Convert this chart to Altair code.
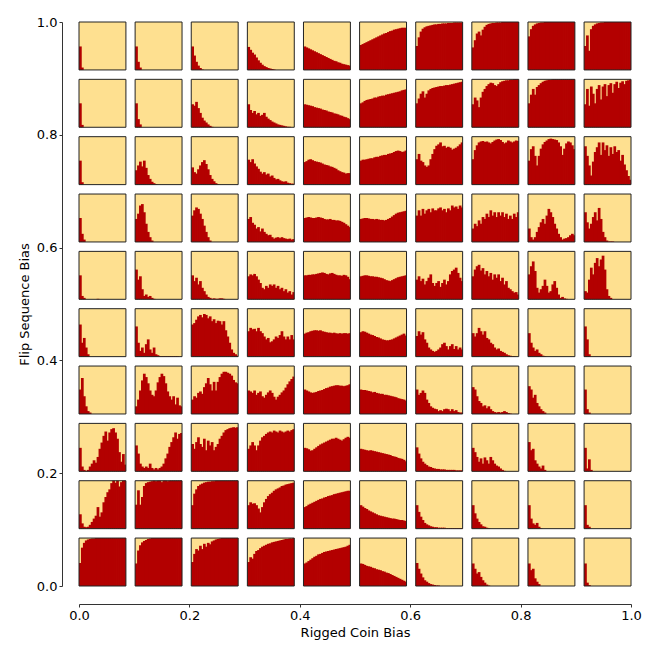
import altair as alt
import pandas as pd

# Panel grid: columns = rigged coin bias, rows = flip sequence bias
COIN_BIAS = [0.0, 0.1, 0.2, 0.3, 0.4, 0.5, 0.6, 0.7, 0.8, 0.9]
FLIP_BIAS = [0.0, 0.1, 0.2, 0.3, 0.4, 0.5, 0.6, 0.7, 0.8, 0.9]
N_BINS = 24
TICKS = [0.0, 0.2, 0.4, 0.6, 0.8, 1.0]

# histogram heights (percent of panel height), one list per panel, left->right coin bias
flip_0_9 = [
    [49, 5],
    [49, 17, 5],
    [49, 30, 17, 9, 4, 1],
    [48, 42, 36, 32, 26, 20, 15, 11, 8, 6, 4, 3, 2, 1],
    [49, 47, 45, 43, 41, 39, 37, 35, 33, 31, 29, 27, 25, 23, 21, 19, 18, 16, 15, 13, 12, 11, 10, 9],
    [52, 54, 56, 58, 60, 62, 64, 66, 68, 70, 72, 74, 76, 77, 79, 81, 82, 84, 85, 86, 87, 88, 88, 88],
    [50, 68, 80, 86, 89, 91, 92, 93, 94, 95, 95, 96, 96, 97, 97, 97, 98, 98, 98, 99, 99, 99, 99, 99],
    [47, 62, 76, 80, 72, 84, 90, 94, 96, 97, 98, 98, 99, 99, 99, 100, 100, 100, 100, 100, 100, 100, 100, 100],
    [70, 85, 92, 95, 97, 98, 99, 99, 100, 100, 100, 100, 100, 100, 100, 100, 100, 100, 100, 100, 100, 100, 100, 100],
    [50, 72, 40, 85, 92, 95, 97, 98, 99, 99, 100, 100, 100, 100, 100, 100, 100, 100, 100, 100, 100, 100, 100, 100],
]
flip_0_8 = [
    [50, 5],
    [50, 17, 6],
    [48, 45, 53, 40, 30, 20, 14, 10, 6, 3, 1],
    [48, 36, 30, 34, 27, 30, 24, 26, 30, 22, 18, 15, 12, 10, 8, 6, 5, 4, 3, 2, 1, 1],
    [48, 47, 46, 45, 44, 42, 41, 40, 39, 37, 36, 35, 33, 32, 31, 29, 28, 27, 25, 24, 22, 21, 19, 17],
    [50, 52, 55, 57, 58, 59, 60, 62, 62, 64, 65, 66, 66, 68, 69, 70, 71, 72, 73, 74, 75, 77, 78, 79],
    [50, 60, 70, 75, 62, 70, 77, 80, 82, 83, 84, 85, 86, 86, 87, 88, 88, 89, 90, 91, 92, 93, 94, 95],
    [48, 62, 56, 42, 62, 74, 80, 86, 90, 93, 92, 88, 86, 90, 94, 96, 97, 98, 98, 99, 99, 100, 100, 100],
    [50, 68, 80, 68, 84, 88, 92, 95, 97, 98, 99, 99, 100, 100, 100, 100, 100, 100, 100, 100, 100, 100, 100, 100],
    [48, 80, 45, 85, 70, 50, 80, 88, 58, 85, 90, 65, 88, 92, 72, 90, 95, 82, 93, 96, 90, 97, 98, 99],
]
flip_0_7 = [
    [50, 5],
    [30, 40, 48, 38, 50, 35, 20, 12, 6, 3, 1],
    [36, 26, 23, 32, 40, 47, 51, 43, 32, 20, 12, 7, 3, 1],
    [52, 47, 53, 44, 38, 33, 27, 23, 26, 21, 23, 17, 19, 14, 11, 12, 9, 7, 6, 7, 4, 3, 2, 2],
    [47, 49, 52, 53, 51, 49, 48, 47, 46, 44, 42, 41, 40, 38, 37, 35, 33, 30, 28, 26, 25, 23, 24, 24],
    [50, 52, 52, 53, 54, 55, 55, 57, 58, 58, 60, 61, 62, 62, 64, 65, 66, 68, 70, 71, 70, 68, 69, 71],
    [53, 64, 50, 47, 40, 37, 40, 53, 64, 74, 81, 84, 88, 80, 81, 77, 79, 77, 73, 75, 77, 80, 84, 88],
    [53, 72, 82, 88, 90, 91, 89, 90, 88, 86, 89, 92, 94, 95, 93, 89, 86, 88, 92, 90, 88, 90, 92, 91],
    [50, 74, 80, 60, 40, 60, 75, 84, 89, 92, 95, 96, 95, 94, 93, 88, 80, 62, 75, 86, 90, 88, 82, 74],
    [80, 60, 40, 19, 48, 68, 78, 88, 62, 88, 72, 82, 60, 78, 64, 80, 68, 72, 50, 62, 42, 30, 18, 10],
]
flip_0_6 = [
    [50, 17, 5],
    [48, 59, 76, 79, 62, 38, 21, 10, 3],
    [55, 66, 72, 69, 59, 48, 34, 21, 10, 3],
    [48, 52, 40, 36, 28, 31, 22, 28, 21, 17, 14, 15, 10, 7, 9, 10, 8, 10, 8, 7, 6, 7, 5, 6],
    [50, 51, 52, 51, 50, 50, 51, 52, 51, 50, 48, 47, 47, 48, 46, 46, 45, 45, 44, 42, 40, 37, 34, 31],
    [48, 49, 50, 50, 49, 48, 48, 47, 48, 47, 46, 46, 45, 46, 48, 50, 53, 56, 59, 61, 62, 63, 64, 65],
    [55, 66, 55, 69, 59, 66, 69, 62, 70, 66, 66, 70, 72, 66, 69, 62, 70, 66, 76, 72, 74, 69, 76, 72],
    [28, 38, 33, 45, 38, 52, 48, 59, 52, 66, 55, 62, 52, 62, 55, 62, 52, 59, 48, 55, 48, 59, 52, 62],
    [28, 10, 5, 10, 21, 31, 41, 48, 38, 55, 69, 62, 52, 38, 28, 17, 10, 5, 7, 8, 10, 14, 17, 14],
    [62, 41, 28, 38, 52, 62, 45, 71, 48, 21, 10, 3, 1, 1, 1],
]
flip_0_5 = [
    [50, 7, 3, 0, 0, 0, 0, 0, 0, 1],
    [62, 41, 48, 21, 7, 10, 5, 7, 3, 1],
    [50, 38, 45, 31, 38, 24, 17, 10, 5, 3, 1, 2, 1, 1, 2, 2, 1],
    [48, 52, 50, 53, 48, 41, 34, 24, 21, 28, 24, 31, 28, 31, 24, 28, 21, 24, 17, 21, 14, 17, 10, 15],
    [50, 50, 51, 51, 52, 52, 53, 54, 55, 56, 55, 53, 52, 54, 55, 53, 51, 50, 50, 49, 51, 50, 47, 42],
    [48, 49, 50, 50, 49, 48, 48, 47, 47, 46, 45, 44, 42, 40, 39, 38, 40, 42, 44, 46, 47, 48, 49, 50],
    [41, 48, 38, 43, 31, 38, 45, 52, 34, 28, 34, 38, 26, 34, 41, 31, 38, 52, 59, 62, 66, 55, 45, 38],
    [48, 62, 69, 72, 60, 65, 52, 59, 48, 55, 41, 52, 45, 52, 38, 45, 31, 38, 24, 21, 17, 14, 15, 10],
    [52, 69, 79, 59, 24, 14, 21, 28, 41, 28, 14, 17, 31, 38, 24, 10, 3, 5, 2, 1],
    [17, 14, 41, 66, 52, 76, 86, 69, 83, 91, 62, 21, 7, 3],
]
flip_0_4 = [
    [67, 29, 39, 19, 5],
    [63, 29, 12, 19, 8, 26, 36, 15, 8, 19, 5, 3, 1, 1, 1, 1, 1, 1, 1, 1, 1, 1],
    [67, 70, 77, 84, 87, 82, 89, 87, 80, 84, 74, 78, 70, 75, 74, 67, 74, 55, 42, 29, 15, 8, 5, 2],
    [53, 60, 57, 58, 53, 60, 53, 49, 42, 36, 39, 30, 32, 36, 42, 39, 45, 53, 42, 36, 42, 36, 45, 36],
    [48, 50, 51, 53, 54, 55, 55, 54, 55, 53, 52, 51, 50, 50, 49, 50, 49, 48, 49, 48, 49, 49, 48, 49],
    [51, 53, 52, 50, 48, 46, 45, 43, 41, 40, 38, 36, 35, 34, 34, 35, 36, 38, 40, 42, 44, 46, 48, 44],
    [43, 53, 46, 51, 36, 29, 19, 15, 12, 10, 12, 15, 19, 26, 29, 22, 15, 22, 26, 16, 22, 15, 19, 15],
    [49, 42, 49, 60, 53, 46, 53, 39, 36, 29, 26, 19, 15, 17, 12, 10, 8, 5, 3, 2, 1, 1],
    [49, 29, 19, 12, 15, 8, 5, 2, 1],
    [63, 36, 5],
]
flip_0_3 = [
    [51, 75, 37, 16, 6, 3],
    [16, 30, 49, 70, 84, 77, 64, 49, 40, 37, 49, 66, 77, 84, 79, 64, 47, 37, 30, 37, 20, 34, 18, 16],
    [30, 37, 34, 44, 47, 42, 56, 64, 75, 62, 49, 67, 49, 67, 77, 84, 88, 88, 86, 84, 80, 71, 66, 64],
    [49, 47, 44, 49, 40, 44, 47, 37, 34, 40, 45, 49, 44, 36, 30, 36, 40, 45, 49, 55, 62, 68, 73, 78],
    [51, 49, 47, 45, 44, 45, 46, 48, 49, 50, 52, 54, 55, 57, 58, 59, 60, 60, 59, 59, 58, 59, 60, 62],
    [51, 50, 50, 49, 48, 47, 45, 46, 44, 43, 42, 42, 40, 40, 39, 38, 37, 36, 35, 33, 32, 31, 30, 28],
    [51, 40, 44, 49, 44, 30, 23, 16, 13, 11, 10, 6, 8, 6, 10, 11, 10, 6, 10, 6, 8, 4, 3, 3],
    [56, 51, 37, 27, 23, 16, 18, 12, 16, 10, 6, 4, 3, 4, 3, 4, 6, 4, 2, 1],
    [58, 51, 34, 40, 23, 16, 10, 6, 3],
    [51, 10, 3],
]
flip_0_2 = [
    [49, 10, 3, 1, 3, 10, 16, 23, 18, 30, 47, 60, 74, 83, 64, 81, 88, 90, 81, 68, 40, 20, 36, 14],
    [54, 37, 16, 10, 7, 10, 7, 16, 7, 4, 7, 4, 7, 10, 16, 27, 37, 51, 61, 71, 81, 68, 78, 80],
    [57, 47, 61, 71, 57, 51, 68, 44, 64, 54, 61, 44, 51, 57, 68, 74, 81, 86, 88, 90, 91, 92, 91, 92],
    [47, 54, 61, 54, 44, 54, 64, 71, 74, 78, 81, 83, 81, 85, 83, 81, 85, 83, 81, 83, 85, 83, 86, 88],
    [49, 48, 46, 43, 44, 47, 50, 53, 56, 58, 60, 62, 64, 66, 68, 68, 70, 68, 66, 64, 67, 70, 72, 70],
    [47, 46, 45, 44, 43, 44, 43, 42, 41, 40, 39, 38, 37, 36, 35, 34, 32, 31, 30, 28, 27, 26, 24, 21],
    [50, 37, 27, 20, 16, 13, 10, 9, 7, 6, 5, 5, 4, 4, 4, 3, 3, 3, 3, 3, 2, 2, 2, 2],
    [49, 40, 30, 20, 27, 16, 29, 23, 16, 30, 23, 16, 12, 10, 6, 3, 1],
    [61, 44, 47, 23, 16, 10, 6, 12, 3],
    [49, 6, 25, 3],
]
flip_0_1 = [
    [30, 11, 4, 3, 4, 8, 14, 21, 27, 45, 25, 34, 55, 66, 76, 82, 95, 100, 96, 100, 88, 97, 100, 100],
    [50, 80, 50, 66, 89, 95, 97, 98, 99, 100, 99, 100, 100, 97, 100, 100, 99, 100, 100, 100, 100, 100, 100, 100],
    [49, 73, 82, 89, 92, 94, 96, 97, 98, 98, 99, 99, 100, 100, 100, 100, 100, 100, 100, 100, 100, 100, 100, 100],
    [49, 55, 52, 53, 49, 42, 34, 45, 55, 62, 68, 72, 75, 79, 82, 84, 86, 89, 90, 92, 93, 94, 95, 96],
    [45, 47, 50, 52, 54, 56, 58, 60, 62, 63, 65, 66, 68, 69, 70, 72, 73, 74, 75, 76, 77, 78, 79, 79],
    [49, 46, 43, 41, 38, 36, 34, 32, 30, 28, 27, 26, 25, 24, 23, 22, 21, 21, 20, 19, 18, 18, 17, 16],
    [49, 35, 25, 18, 12, 9, 7, 5, 4, 3, 3, 2, 2, 2, 2, 1, 1, 1, 1, 1, 1, 1, 1, 1],
    [49, 32, 21, 14, 9, 5, 4, 2, 1],
    [49, 21, 11, 8, 12, 4, 1],
    [49, 8, 4],
]
flip_0_0 = [
    [48, 80, 90, 95, 97, 98, 99, 99, 100, 100, 100, 100, 100, 100, 100, 100, 100, 100, 100, 100, 100, 100, 100, 100],
    [47, 74, 85, 91, 94, 96, 98, 99, 100, 100, 100, 100, 100, 100, 100, 100, 100, 100, 100, 100, 100, 100, 100, 100],
    [50, 67, 77, 74, 84, 77, 88, 82, 90, 87, 93, 95, 97, 98, 99, 100, 100, 100, 100, 100, 100, 100, 100, 100],
    [50, 60, 57, 67, 73, 75, 79, 82, 84, 86, 88, 89, 91, 92, 93, 94, 95, 96, 97, 98, 98, 99, 99, 100],
    [47, 49, 52, 55, 58, 61, 63, 66, 67, 69, 71, 72, 73, 74, 75, 76, 77, 78, 79, 80, 81, 82, 84, 86],
    [47, 46, 44, 42, 41, 40, 38, 37, 35, 34, 33, 31, 30, 28, 27, 25, 23, 21, 19, 17, 15, 13, 11, 9],
    [48, 36, 26, 18, 12, 9, 6, 4, 3, 2, 1, 1],
    [47, 36, 26, 29, 19, 12, 7, 3, 1],
    [47, 33, 36, 16, 9, 4],
    [47, 7, 2],
]

ROWS = [flip_0_0, flip_0_1, flip_0_2, flip_0_3, flip_0_4,
        flip_0_5, flip_0_6, flip_0_7, flip_0_8, flip_0_9]

# layout of the small panels inside the 0..1 axes
PANEL = 0.085
PITCH = (1.0 - PANEL) / 9
BIN_W = PANEL / N_BINS
OVERLAP = BIN_W * 0.4  # hides anti-aliasing seams between neighbouring bins


def pad(vals):
    return list(vals) + [0] * (N_BINS - len(vals))


panel_rows = []
bin_rows = []
for fi, fb in enumerate(FLIP_BIAS):
    for ci, cb in enumerate(COIN_BIAS):
        name = f"{fb:.1f}-{cb:.1f}"
        x0 = ci * PITCH
        y0 = fi * PITCH
        panel_rows.append({"panel": name, "x0": x0, "x1": x0 + PANEL, "y0": y0, "y1": y0 + PANEL})
        for b, v in enumerate(pad(ROWS[fi][ci])):
            if v <= 0:
                continue
            right = x0 + (b + 1) * BIN_W + (OVERLAP if b < N_BINS - 1 else 0.0)
            bin_rows.append({"panel": name,
                             "bx0": x0 + b * BIN_W, "bx1": right,
                             "base": y0, "top": y0 + v / 100.0 * PANEL})

panels = pd.DataFrame(panel_rows)
bins = pd.DataFrame(bin_rows)

FONT = "DejaVu Sans"
RED = "#b30000"
xs = alt.Scale(domain=[0, 1], nice=False, zero=False)
ys = alt.Scale(domain=[0, 1], nice=False, zero=False)

x_axis = alt.Axis(title="Rigged Coin Bias", values=TICKS, format=".1f", offset=18,
                  grid=False, tickSize=3, labelPadding=2, labelFlush=False,
                  domainColor="#333333", tickColor="#333333", labelColor="#000000",
                  titleColor="#000000", labelFont=FONT, titleFont=FONT,
                  labelFontSize=13, titleFontSize=13, titleFontWeight="normal",
                  titlePadding=4)
y_axis = alt.Axis(title="Flip Sequence Bias", values=TICKS, format=".1f", offset=17,
                  grid=False, tickSize=3, labelPadding=2, labelFlush=False,
                  domainColor="#333333", tickColor="#333333", labelColor="#000000",
                  titleColor="#000000", labelFont=FONT, titleFont=FONT,
                  labelFontSize=13, titleFontSize=13, titleFontWeight="normal",
                  titlePadding=5)

bg = alt.Chart(panels).mark_rect(color="#fee090", strokeWidth=0).encode(
    x=alt.X("x0:Q", scale=xs, axis=x_axis),
    x2="x1:Q",
    y=alt.Y("y0:Q", scale=ys, axis=y_axis),
    y2="y1:Q",
)

hist = alt.Chart(bins).mark_rect(color=RED, strokeWidth=0).encode(
    x=alt.X("bx0:Q", scale=xs),
    x2="bx1:Q",
    y=alt.Y("base:Q", scale=ys),
    y2="top:Q",
)

border = alt.Chart(panels).mark_rect(fillOpacity=0, stroke="#222222", strokeWidth=1).encode(
    x=alt.X("x0:Q", scale=xs),
    x2="x1:Q",
    y=alt.Y("y0:Q", scale=ys),
    y2="y1:Q",
)

chart = alt.layer(bg, hist, border).properties(
    width=552, height=564,
    autosize=alt.AutoSizeParams(type="none"),
    padding={"left": 71, "top": 14, "right": 16, "bottom": 56},
).configure_view(strokeWidth=0)

chart.save("out.html", embed_options={"renderer": "svg", "actions": False})
